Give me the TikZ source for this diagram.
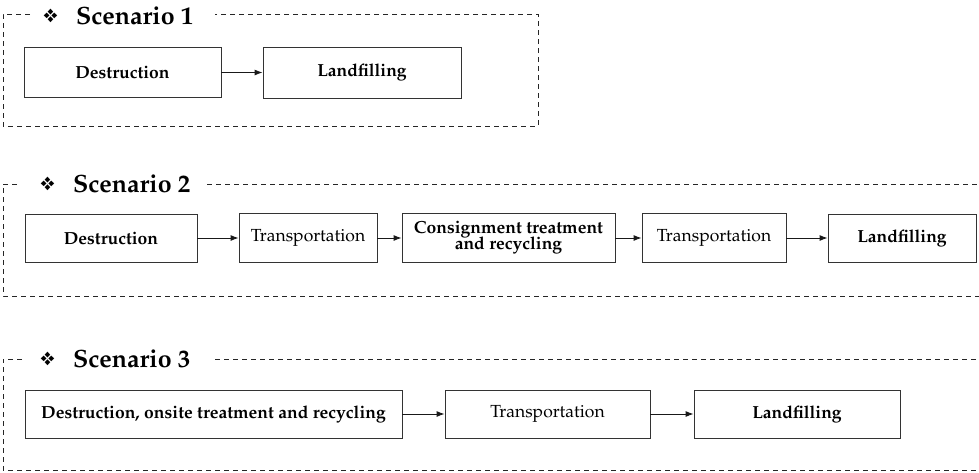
\documentclass[tikz,border=0pt]{standalone}
\usepackage[T1]{fontenc}
\usepackage{mathpazo}
\usepackage{pifont}
\usetikzlibrary{arrows.meta}
\newcommand\scdiamond{\raisebox{2pt}{\fontsize{19}{19}\selectfont\ding{118}}}
\begin{document}
\begin{tikzpicture}[x=1pt,y=-1pt,
  box/.style={draw=black!80, line width=0.85pt, inner sep=2pt, align=center},
  bt/.style={font=\fontsize{17.5}{18}\selectfont\bfseries},
  rt/.style={font=\fontsize{17.5}{19}\selectfont},
  frame/.style={draw=black!85, dash pattern=on 5pt off 4pt, line width=0.9pt},
  arr/.style={draw=black!90, -{Latex[length=8pt,width=6pt]}, line width=0.9pt},
  ttl/.style={anchor=base west, inner sep=0pt, font=\fontsize{25}{27}\selectfont\bfseries}]
\useasboundingbox (0,0) rectangle (979,472);
% ---------- Scenario 1
\draw[frame] (30,14) -- (3,14) -- (3,126) -- (538,126) -- (538,14) -- (215,14);
\node[ttl] (t1) at (43,24) {\scdiamond\hspace{18pt}Scenario 1};
\node[box, bt, minimum width=197pt, minimum height=50pt] (s1a) at (122.5,72.5) {Destruction};
\node[box, bt, minimum width=198pt, minimum height=51pt] (s1b) at (362,72.5) {Landfilling};
\draw[arr] (s1a.east) -- (s1b.west);
% ---------- Scenario 2
\draw[frame] (17,184) -- (3,184) -- (3,296) -- (979,296);
\draw[frame] (207,184) -- (979,184);
\node[ttl] (t2) at (40,192) {\scdiamond\hspace{18pt}Scenario 2};
\node[box, bt, minimum width=172pt, minimum height=48pt] (s2a) at (111,238) {Destruction};
\node[box, rt, minimum width=138pt, minimum height=49pt] (s2b) at (308,238) {Transportation};
\node[box, bt, minimum width=213pt, minimum height=49pt] (s2c) at (508.5,238) {Consignment treatment\\[-2pt]and recycling};
\node[box, rt, minimum width=144pt, minimum height=49pt] (s2d) at (714,238) {Transportation};
\node[box, bt, minimum width=148pt, minimum height=48pt] (s2e) at (902,238) {Landfilling};
\draw[arr] (s2a.east) -- (s2b.west);
\draw[arr] (s2b.east) -- (s2c.west);
\draw[arr] (s2c.east) -- (s2d.west);
\draw[arr] (s2d.east) -- (s2e.west);
% ---------- Scenario 3
\draw[frame] (22,359) -- (3,359) -- (3,470) -- (979,470);
\draw[frame] (215,359) -- (979,359);
\node[ttl] (t3) at (40,367) {\scdiamond\hspace{18pt}Scenario 3};
\node[box, bt, minimum width=377pt, minimum height=48pt] (s3a) at (213.5,414) {Destruction, onsite treatment and recycling};
\node[box, rt, minimum width=205pt, minimum height=48pt] (s3b) at (547.5,414) {Transportation};
\node[box, bt, minimum width=206pt, minimum height=48pt] (s3c) at (797,414) {Landfilling};
\draw[arr] (s3a.east) -- (s3b.west);
\draw[arr] (s3b.east) -- (s3c.west);
\end{tikzpicture}
\end{document}
